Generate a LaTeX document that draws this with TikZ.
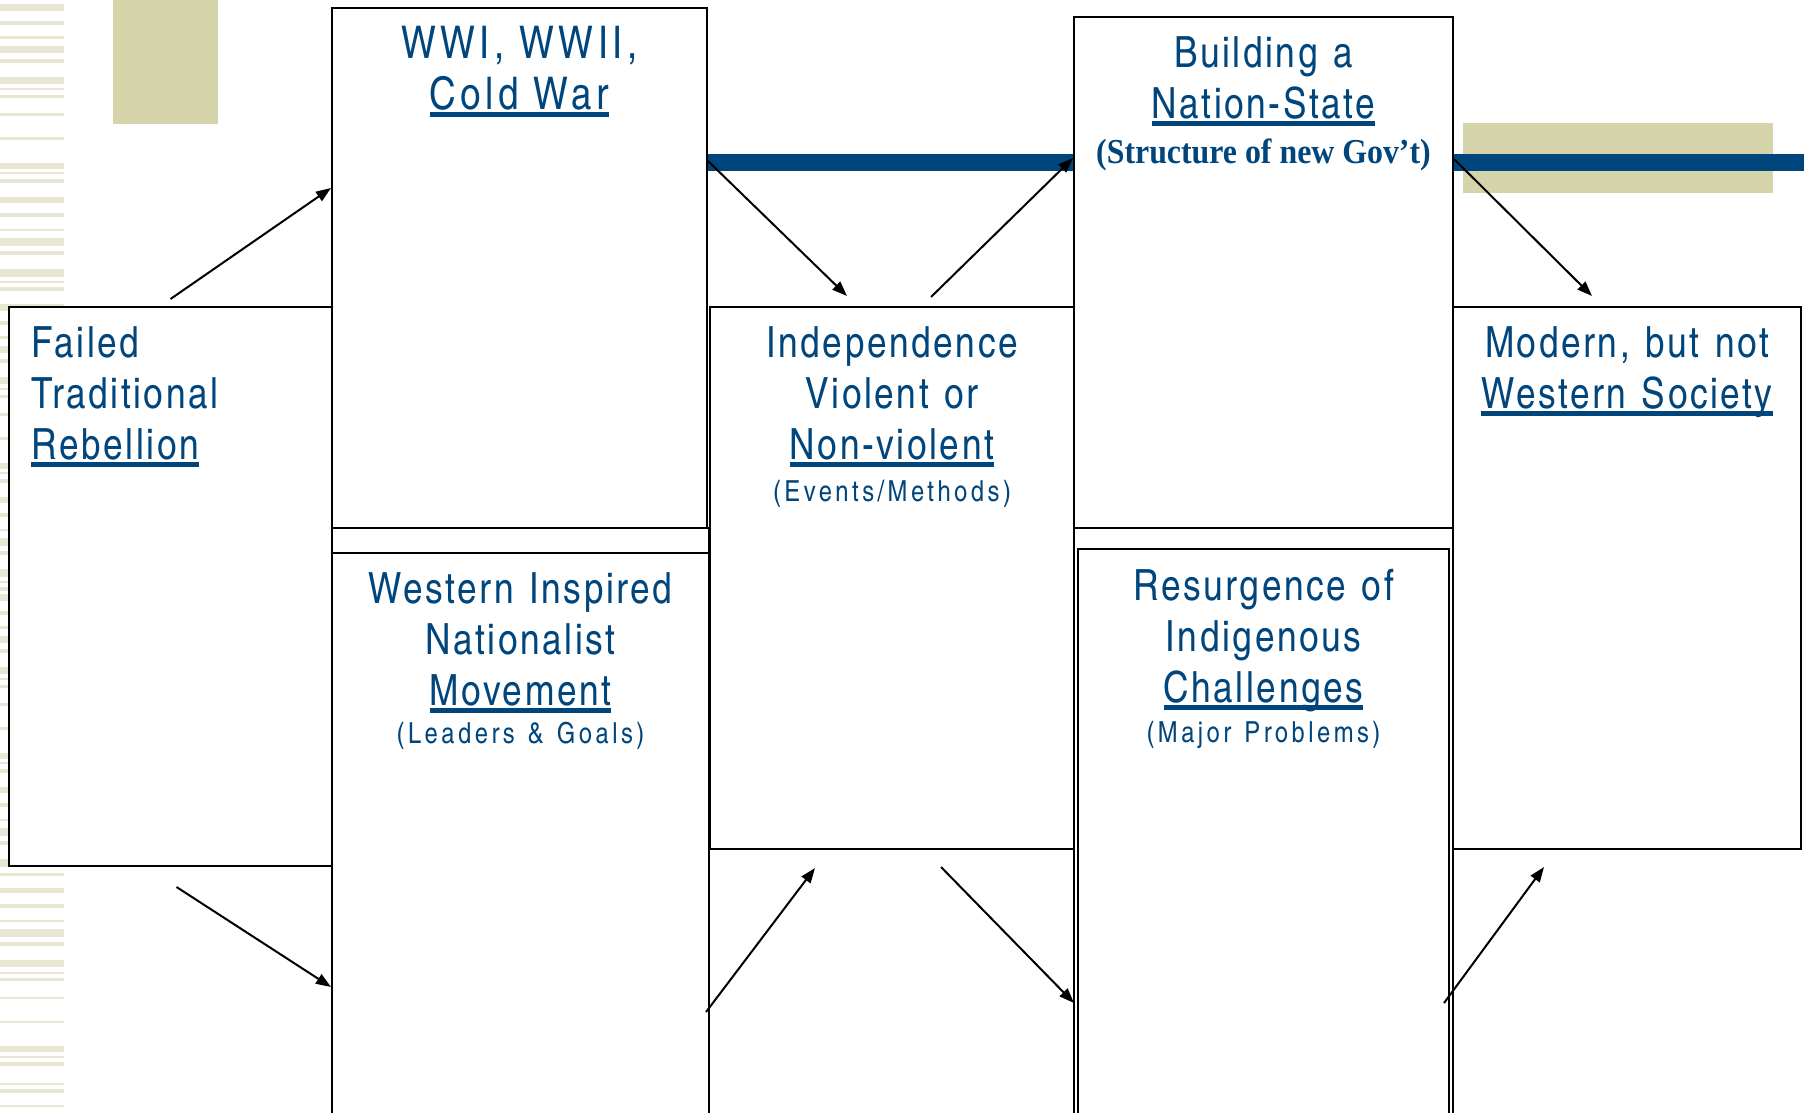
\documentclass[tikz,border=0pt]{standalone}
\usepackage{fontspec}
\usetikzlibrary{arrows.meta}
\definecolor{navy}{RGB}{0,70,125}
\definecolor{khaki}{RGB}{213,211,169}
\definecolor{paletan}{RGB}{233,230,212}
\newfontfamily\headfont{texgyreheroscn-regular.otf}[LetterSpace=6,WordSpace=1.25]
\newfontfamily\warsfont{texgyreheroscn-regular.otf}[LetterSpace=10]
\newfontfamily\subfont{texgyreheroscn-regular.otf}[LetterSpace=12,WordSpace=1.3]
\newfontfamily\govfont{Liberation Serif}[FakeStretch=0.91]
\newcommand{\hd}{\rule{0pt}{25.5pt}}
\newcommand{\ulin}[1]{\setbox0=\hbox{#1}\rlap{\rule[-4pt]{\wd0}{2.5pt}}\box0}
\newcommand{\subln}[1]{{\subfont\fontsize{14.5pt}{17pt}\selectfont #1}}

\begin{document}
\begin{tikzpicture}[x=0.5pt,y=-0.5pt,
  box/.style={draw, line width=1pt, fill=white, anchor=north west, inner sep=0pt},
  head/.style={anchor=north, align=center, inner sep=0pt, text=navy,
    font=\headfont\fontsize{21.5pt}{25.5pt}\selectfont},
  arr/.style={-{Triangle[length=7.5pt,width=5.5pt]}, line width=1pt}]
\useasboundingbox (0,0) rectangle (1804,1113);
% stripes down the left margin
\begin{scope}
\clip (0,0) rectangle (64,868);
\foreach \s in {0,300,590}
  \foreach \a/\b in {4/11,21/25,36/39,46/53,59/63,77/84,88/90,95/98,113/116,137/140,
      163/169,172/174,179/183,197/203,213/217,229/231,238/246,251/255,269/277,281/283,287/291}
    \fill[paletan] (0,{\a+\s}) rectangle (64,{\b+\s});
\end{scope}
\foreach \a/\b in {873/876,888/893,904/908,920/922,929/937,942/946,960/967,972/974,978/981,
    997/999,1021/1023,1046/1052,1056/1058,1062/1066,1083/1085,1089/1093,1105/1107}
  \fill[paletan] (0,\a) rectangle (64,\b);
\fill[khaki] (113,0) rectangle (218,124);
\fill[khaki] (1463,123) rectangle (1773,193);
\fill[navy] (331,154) rectangle (1804,171);

% boxes
\node[box, minimum width=161.5pt, minimum height=279.5pt] (rebel) at (8,306) {};
\node[box, minimum width=187.5pt, minimum height=260pt] (wars) at (331,7) {};
\node[box, minimum width=188.5pt, minimum height=295.5pt] (movecol) at (331,527) {};
\node[box, minimum width=188.5pt, minimum height=283pt] (nation) at (331,552) {};
\node[box, minimum width=182pt, minimum height=271pt] (indep) at (709,306) {};
\node[box, minimum width=189.5pt, minimum height=255.5pt] (build) at (1073,16) {};
\node[box, minimum width=189.5pt, minimum height=295.5pt] (chalcol) at (1073,527) {};
\node[box, minimum width=185.5pt, minimum height=285pt] (resurg) at (1077,548) {};
\node[box, minimum width=174pt, minimum height=271pt] (modern) at (1452,306) {};

% titles
\node[head, anchor=north west, align=left] (rebeltxt) at ([xshift=11.5pt]rebel.north west)
  {\hd Failed\\Traditional\\\ulin{Rebellion}};
\node[head, font=\warsfont\fontsize{22.5pt}{25.5pt}\selectfont] (warstxt) at (wars.north)
  {\hd WWI, WWII,\\\ulin{Cold War}};
\node[head] (nationtxt) at (nation.north)
  {\hd Western Inspired\\Nationalist\\\ulin{Movement}\\[-6.5pt]\subln{(Leaders \& Goals)}};
\node[head] (indeptxt) at (indep.north)
  {\hd Independence\\Violent or\\\ulin{Non-violent}\\[-4.5pt]\subln{(Events/Methods)}};
\node[head] (buildtxt) at (build.north)
  {\hd Building a\\\ulin{Nation-State}\\[-3pt]{\govfont\bfseries\fontsize{17.5pt}{21pt}\selectfont (Structure of new Gov’t)}};
\node[head] (resurgtxt) at ([yshift=-0.5pt]resurg.north)
  {\hd Resurgence of\\Indigenous\\\ulin{Challenges}\\[-5.5pt]\subln{(Major Problems)}};
\node[head] (moderntxt) at (modern.north)
  {\hd Modern, but not\\\ulin{Western Society}};

% arrows
\draw[arr] ([yshift=3.5pt]rebel.north) -- ([yshift=40pt]wars.west);
\draw[arr] ([xshift=3pt,yshift=-10pt]rebel.south) -- ([yshift=-217.5pt]nation.north west);
\draw[arr] ([yshift=-77pt]wars.north east) -- ([xshift=-22.5pt,yshift=5pt]indep.north);
\draw[arr] ([xshift=19.5pt,yshift=4.5pt]indep.north) -- ([yshift=-71pt]build.north west);
\draw[arr] ([xshift=-2pt,yshift=-230pt]nation.north east) -- ([xshift=-38.5pt,yshift=-9pt]indep.south);
\draw[arr] ([xshift=24.5pt,yshift=-8.5pt]indep.south) -- ([xshift=-1.5pt,yshift=-227.5pt]resurg.north west);
\draw[arr] ([yshift=-71.5pt]build.north east) -- ([xshift=-17.5pt,yshift=5pt]modern.north);
\draw[arr] ([xshift=-3pt,yshift=-227.5pt]resurg.north east) -- ([xshift=-41.5pt,yshift=-8.5pt]modern.south);
\end{tikzpicture}
\end{document}
